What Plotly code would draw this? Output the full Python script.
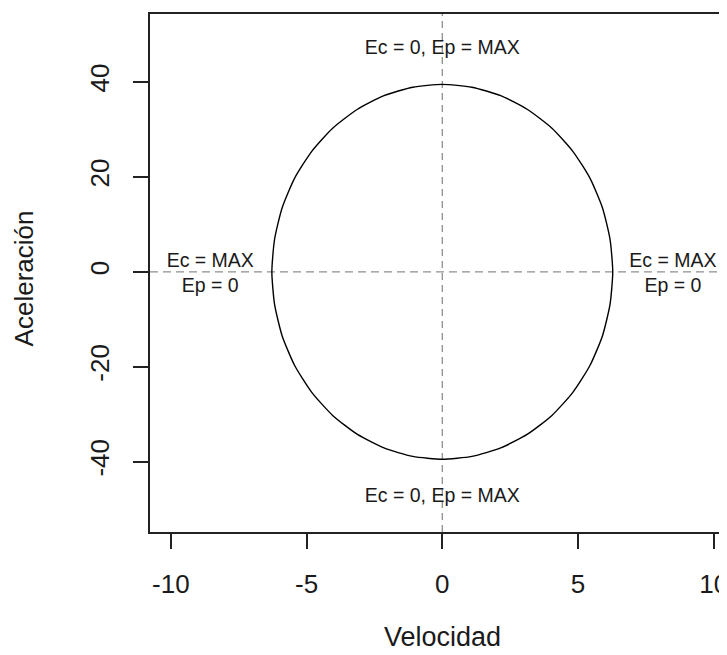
import plotly.graph_objects as go

# Ellipse (velocity vs acceleration) points
velocidad = [6.28, 6.18, 5.90, 5.44, 4.81, 4.04, 3.14, 2.15, 1.09, 0.00,
             -1.09, -2.15, -3.14, -4.04, -4.81, -5.44, -5.90, -6.18, -6.28,
             -6.18, -5.90, -5.44, -4.81, -4.04, -3.14, -2.15, -1.09, 0.00,
             1.09, 2.15, 3.14, 4.04, 4.81, 5.44, 5.90, 6.18, 6.28]
aceleracion = [0.00, 6.86, 13.50, 19.74, 25.38, 30.24, 34.19, 37.10, 38.88, 39.48,
               38.88, 37.10, 34.19, 30.24, 25.38, 19.74, 13.50, 6.86, 0.00,
               -6.86, -13.50, -19.74, -25.38, -30.24, -34.19, -37.10, -38.88, -39.48,
               -38.88, -37.10, -34.19, -30.24, -25.38, -19.74, -13.50, -6.86, 0.00]

x_ticks = [-10, -5, 0, 5, 10]
y_ticks = [-40, -20, 0, 20, 40]

labels_text = ["Ec = 0, Ep = MAX", "Ec = 0, Ep = MAX", "Ec = MAX<br>Ep = 0", "Ec = MAX<br>Ep = 0"]
labels_x = [0, 0, -8.55, 8.5]
labels_y = [47.0, -47.4, -0.6, -0.6]

X_RANGE = [-10.77, 10.49]
Y_RANGE = [-54.8, 54.3]

FONT = "Liberation Sans, Arial, sans-serif"
TXT = "#1a1a1a"

fig = go.Figure()

# dashed reference lines
fig.add_trace(go.Scatter(x=[X_RANGE[0], X_RANGE[1]], y=[0, 0], mode="lines",
                         line=dict(color="#8f8f8f", width=1.3, dash="8px,5px"),
                         hoverinfo="skip", showlegend=False))
fig.add_trace(go.Scatter(x=[0, 0], y=[Y_RANGE[0], Y_RANGE[1]], mode="lines",
                         line=dict(color="#8f8f8f", width=1.3, dash="7px,5px"),
                         hoverinfo="skip", showlegend=False))

fig.add_trace(go.Scatter(x=velocidad, y=aceleracion, mode="lines",
                         line=dict(color="black", width=1.4, shape="spline", smoothing=0.6),
                         showlegend=False))

fig.add_trace(go.Scatter(x=labels_x, y=labels_y, mode="text", text=labels_text,
                         textfont=dict(family=FONT, size=19.5, color=TXT),
                         textposition="middle center", showlegend=False, hoverinfo="skip"))

fig.add_annotation(text="Velocidad", xref="x", yref="paper", x=0, y=-0.203,
                   showarrow=False, font=dict(family=FONT, size=27, color=TXT),
                   xanchor="center", yanchor="middle")
fig.add_annotation(text="Aceleración", xref="paper", yref="paper", x=-0.218, y=0.49,
                   showarrow=False, textangle=-90, font=dict(family=FONT, size=26, color=TXT),
                   xanchor="center", yanchor="middle")

# page body has an 8px default margin: shrink the figure and left/top margins by 8px
fig.update_layout(
    width=719, height=647,
    margin=dict(l=142, r=0, t=6, b=123),
    paper_bgcolor="white", plot_bgcolor="white",
    xaxis=dict(range=X_RANGE, tickvals=x_ticks, ticktext=[str(v) for v in x_ticks],
               showgrid=False, zeroline=False, showline=True, mirror=True,
               linecolor="#222", linewidth=1.8, ticks="outside", ticklen=15,
               tickwidth=1.6, tickcolor="#222", ticklabelstandoff=13,
               ticklabeloverflow="allow",
               tickfont=dict(family=FONT, size=26, color=TXT)),
    yaxis=dict(range=Y_RANGE, tickvals=y_ticks, ticktext=[str(v) for v in y_ticks],
               showgrid=False, zeroline=False, showline=True, mirror=False,
               linecolor="#222", linewidth=1.8, ticks="outside", ticklen=15,
               tickwidth=1.6, tickcolor="#222", tickangle=-90, ticklabelstandoff=14,
               tickfont=dict(family=FONT, size=26, color=TXT)),
)

fig.write_html("out.html")
